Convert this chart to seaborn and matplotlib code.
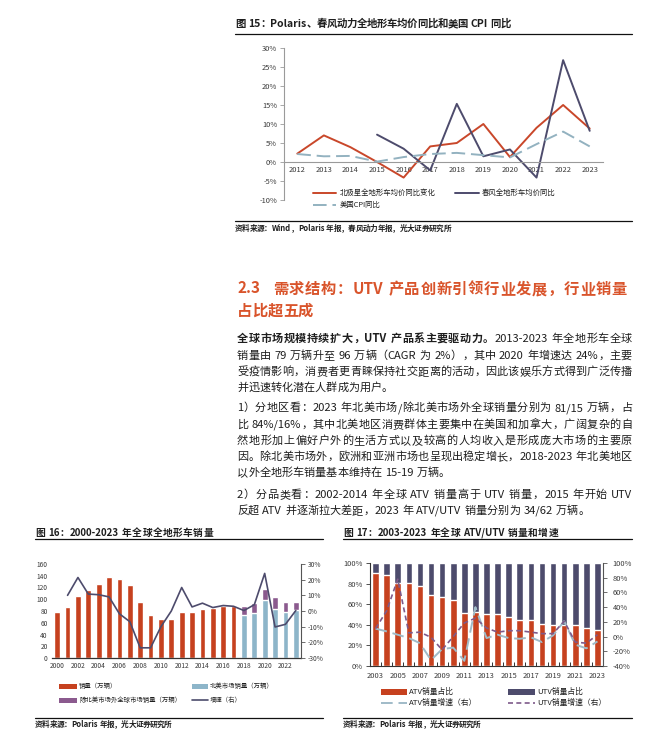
import numpy as np
import matplotlib
matplotlib.use("Agg")
import matplotlib.pyplot as plt
import seaborn as sns
from matplotlib.lines import Line2D
from matplotlib.patches import Rectangle
from matplotlib.ticker import FuncFormatter

W, H, DPI = 665, 739, 100

# ---------- 图15: 均价同比 / CPI 同比 (%)
years15 = [str(y) for y in range(2012, 2024)]
polaris_price_yoy = [2.2, 7.0, 3.9, 0.0, -4.1, 4.1, 5.0, 10.0, 1.3, 9.0, 15.0, 8.8]
cfmoto_price_yoy = [np.nan, np.nan, np.nan, 7.2, 3.5, -2.2, 15.3, 1.5, 3.3, -4.1, 26.8, 8.2]
us_cpi_yoy = [2.1, 1.5, 1.6, 0.1, 1.3, 2.1, 2.4, 1.8, 1.2, 4.7, 8.0, 4.1]

# ---------- 图16: 全球全地形车销量 (万辆) 和增速 (%)
years16 = [str(y) for y in range(2000, 2024)]
years16_total = years16[:18]
sales_total = [78, 86.5, 105, 115, 126, 138, 135, 125, 96, 74, 67, 67,
               77.5, 79, 83, 85, 89, 89]
years16_split = years16[18:]
na_sales = [72.5, 76, 98, 82.6, 77.5, 81]
ex_na_sales = [16.5, 17, 19, 22, 17, 15]
sales_growth = [np.nan, 10, 21.4, 10.8, 10.4, 9, -1.8, -6.8, -23.5, -23.5, -10, 0,
                15, 2.6, 5, 2.2, 3.5, 3, 0.3, 4, 24, -10.2, -8.5, 0.3]

# ---------- 图17: ATV/UTV 占比和增速 (%)
years17 = [str(y) for y in range(2003, 2024)]
atv_share = [90.2, 88.2, 81, 80.4, 77.8, 69, 67, 64, 51, 52, 50.3, 50.6, 47.4,
             44.4, 44.4, 40.8, 39.5, 40, 39.5, 37, 34.6]
utv_share = [round(100 - v, 1) for v in atv_share]
atv_growth = [10.8, 7, 2.5, -2, -9, -32, -17, -15, -33, 40, -2, 2.5, -2, -3, -1,
              -7.5, 1.6, 21, -11, -16, -6.6]
utv_growth = [10.8, 35, 78, 5, 6, -1, -18, 0, 18.5, 25, 11.7, 6, 8, 8, 6, 4, 4,
              21, -7.5, -9, 2.5]

# ---------- page text
title15 = "图 15：Polaris、春风动力全地形车均价同比和美国 CPI 同比"
source15 = "资料来源：Wind，Polaris 年报，春风动力年报，光大证券研究所"
legend15 = ["北极星全地形车均价同比变化", "春风全地形车均价同比", "美国CPI同比"]
heading_no = "2.3"
heading_1 = "需求结构：UTV 产品创新引领行业发展，行业销量"
heading_2 = "占比超五成"
paragraphs = [
    [[("全球市场规模持续扩大，UTV 产品系主要驱动力。", True), ("2013-2023 年全地形车全球", False)],
     [("销量由 79 万辆升至 96 万辆（CAGR 为 2%），其中 2020 年增速达 24%，主要", False)],
     [("受疫情影响，消费者更青睐保持社交距离的活动，因此该娱乐方式得到广泛传播", False)],
     [("并迅速转化潜在人群成为用户。", False)]],
    [[("1）分地区看：2023 年北美市场/除北美市场外全球销量分别为 81/15 万辆，占", False)],
     [("比 84%/16%，其中北美地区消费群体主要集中在美国和加拿大，广阔复杂的自", False)],
     [("然地形加上偏好户外的生活方式以及较高的人均收入是形成庞大市场的主要原", False)],
     [("因。除北美市场外，欧洲和亚洲市场也呈现出稳定增长，2018-2023 年北美地区", False)],
     [("以外全地形车销量基本维持在 15-19 万辆。", False)]],
    [[("2）分品类看：2002-2014 年全球 ATV 销量高于 UTV 销量，2015 年开始 UTV", False)],
     [("反超 ATV 并逐渐拉大差距，2023 年 ATV/UTV 销量分别为 34/62 万辆。", False)]],
]
para_y = [[338, 355, 371, 387], [407, 424, 440, 456, 472], [494, 510]]
title16 = "图 16：2000-2023 年全球全地形车销量"
legend16 = ["销量（万辆）", "北美市场销量（万辆）", "除北美市场外全球市场销量（万辆）", "增速（右）"]
title17 = "图 17：2003-2023 年全球 ATV/UTV 销量和增速"
legend17 = ["ATV销量占比", "UTV销量占比", "ATV销量增速（右）", "UTV销量增速（右）"]
source1617 = "资料来源：Polaris 年报，光大证券研究所"

RED = "#C6411F"
RED_LINE = "#C9472A"
NAVY = "#4D4B6C"
LBLUE = "#8DB5C9"
CPI_BLUE = "#93B2C0"
ATV_DASH = "#A0BBC8"
PURPLE = "#8B5A8E"
PURPLE_DASH = "#7E5A8A"
HEAD = "#D9542B"
TXT = "#1E1E1E"
TICK = "#3A3A3A"

sns.set_theme(style="white")
plt.rcParams["font.family"] = ["Noto Sans CJK SC", "DejaVu Sans"]
plt.rcParams["axes.unicode_minus"] = False

fig = plt.figure(figsize=(W / DPI, H / DPI), dpi=DPI)
fig.patch.set_facecolor("white")
renderer = fig.canvas.get_renderer()


def box(l, t, r, b):
    return [l / W, 1 - b / H, (r - l) / W, (b - t) / H]


def put(x, y, s, size, weight="normal", color=TXT, ha="left", va="center"):
    return fig.text(x / W, 1 - y / H, s, fontsize=size, weight=weight,
                    color=color, ha=ha, va=va)


def rule(x0, x1, y, lw=0.9, color="#111111"):
    fig.add_artist(Line2D([x0 / W, x1 / W], [1 - y / H] * 2,
                          transform=fig.transFigure, lw=lw, color=color))


def key_line(x0, x1, y, color, lw, ls="-"):
    fig.add_artist(Line2D([x0 / W, x1 / W], [1 - y / H] * 2, transform=fig.transFigure,
                          color=color, lw=lw, linestyle=ls))


def key_box(x0, x1, y, h, color):
    fig.add_artist(Rectangle((x0 / W, 1 - (y + h / 2) / H), (x1 - x0) / W, h / H,
                             transform=fig.transFigure, color=color, lw=0))


def tokens_of(pieces):
    out = []
    for s, bold in pieces:
        buf, space = "", False
        for ch in s:
            if ch == " ":
                if buf:
                    out.append((buf, bold, space))
                    buf = ""
                    space = False
                space = True
            elif ord(ch) < 128:
                buf += ch
            else:
                if buf:
                    out.append((buf, bold, space))
                    buf = ""
                    space = False
                out.append((ch, bold, space))
                space = False
        if buf:
            out.append((buf, bold, space))
    return out


def text_line(x0, x1, yc, pieces, size, justify=True, color=TXT):
    # lays out one line token by token so it can be stretched to full width
    toks = tokens_of(pieces)
    arts, widths = [], []
    for s, bold, sp in toks:
        t = fig.text(0, 0, s, fontsize=size, weight="bold" if bold else "normal",
                     color=color, va="baseline")
        arts.append(t)
        widths.append(t.get_window_extent(renderer).width)
    px = size * DPI / 72
    sp_w = px * 0.28
    nat = sum(widths) + sp_w * sum(1 for tk in toks[1:] if tk[2])
    extra = (x1 - x0 - nat) / (len(toks) - 1) if (justify and len(toks) > 1) else 0
    x = x0
    yb = round(yc + px * 0.38)
    for i, (t, w, tk) in enumerate(zip(arts, widths, toks)):
        if i > 0 and tk[2]:
            x += sp_w
        t.set_position((x / W, 1 - yb / H))
        x += w + extra


pct = FuncFormatter(lambda v, _: f"{v:.0f}%")

# ================= 图15 =================
text_line(235, 511, 23, [(title15, True)], 7.5)
rule(235, 632, 34)

ax15 = fig.add_axes(box(284, 48, 603, 200))
x15 = np.arange(len(years15))
sns.lineplot(x=x15, y=polaris_price_yoy, color=RED_LINE, lw=1.4, ax=ax15)
sns.lineplot(x=x15, y=cfmoto_price_yoy, color=NAVY, lw=1.4, ax=ax15)
sns.lineplot(x=x15, y=us_cpi_yoy, color=CPI_BLUE, lw=1.4, ax=ax15,
             linestyle=(0, (7, 3)))
ax15.set_xlim(-0.5, len(years15) - 0.5)
ax15.set_ylim(-10, 30)
ax15.set_xticks(x15)
ax15.set_xticklabels(years15)
ax15.set_yticks(range(-10, 31, 5))
ax15.yaxis.set_major_formatter(pct)
ax15.spines["bottom"].set_position(("data", 0))
for side in ["top", "right"]:
    ax15.spines[side].set_visible(False)
for side in ["left", "bottom"]:
    ax15.spines[side].set_color("#9A9A9A")
    ax15.spines[side].set_linewidth(0.8)
ax15.tick_params(axis="x", length=0, pad=3, labelsize=5.4, labelcolor=TICK)
ax15.tick_params(axis="y", length=3, width=0.6, color="#9A9A9A", direction="out",
                 pad=2, labelsize=5.4, labelcolor=TICK, left=True)
ax15.set_xlabel("")
ax15.set_ylabel("")

key_line(313, 336, 193, RED_LINE, 1.4)
put(340, 193, legend15[0], 5.3)
key_line(455, 479, 193, NAVY, 1.4)
put(482, 193, legend15[1], 5.3)
key_line(313, 336, 205, CPI_BLUE, 1.4, (0, (7, 3)))
put(340, 205, legend15[2], 5.3)

rule(235, 632, 221)
text_line(235, 451, 228, [(source15, True)], 5.5)

# ================= heading & text =================
put(237, 288, heading_no, 11, weight="bold", color=HEAD, va="center")
text_line(273, 627, 288, [(heading_1, True)], 11, color=HEAD)
text_line(237, 315, 310, [(heading_2, True)], 11, justify=False, color=HEAD)

for para, ys in zip(paragraphs, para_y):
    for i, (pieces, y) in enumerate(zip(para, ys)):
        text_line(237, 632, y, pieces, 8, justify=(i < len(para) - 1))

# ================= 图16 =================
text_line(35, 213, 532, [(title16, True)], 7.0)
rule(35, 323, 539)

ax16 = fig.add_axes(box(52, 564, 301, 658))
stack16 = [a + b for a, b in zip(na_sales, ex_na_sales)]
sns.barplot(x=years16_total, y=sales_total, order=years16, color=RED, saturation=1,
            width=0.56, ax=ax16)
sns.barplot(x=years16_split, y=stack16, order=years16, color=PURPLE, saturation=1,
            width=0.56, ax=ax16)
sns.barplot(x=years16_split, y=na_sales, order=years16, color=LBLUE, saturation=1,
            width=0.56, ax=ax16)
ax16.set_xlim(-0.5, len(years16) - 0.5)
ax16.set_ylim(0, 160)
ax16.set_yticks(range(0, 161, 20))
ax16.set_xticks(range(0, len(years16), 2))
ax16.set_xticklabels(years16[::2])
for side in ["top", "right", "left"]:
    ax16.spines[side].set_visible(False)
ax16.spines["bottom"].set_color("#333333")
ax16.spines["bottom"].set_linewidth(0.9)
ax16.tick_params(axis="both", length=0, pad=3, labelsize=4.8, labelcolor=TICK)
ax16.set_xlabel("")
ax16.set_ylabel("")

ax16b = ax16.twinx()
sns.lineplot(x=np.arange(len(years16)), y=sales_growth, color=NAVY, lw=1.2, ax=ax16b)
ax16b.set_ylim(-30, 30)
ax16b.set_yticks(range(-30, 31, 10))
ax16b.yaxis.set_major_formatter(pct)
for side in ["top", "left", "bottom"]:
    ax16b.spines[side].set_visible(False)
ax16b.spines["right"].set_color("#555555")
ax16b.spines["right"].set_linewidth(0.8)
ax16b.tick_params(axis="y", length=3, width=0.6, color="#555555", direction="out",
                  pad=2, labelsize=4.8, labelcolor=TICK, right=True)
ax16b.set_ylabel("")

key_box(59, 77, 686, 5, RED)
put(79, 686, legend16[0], 4.6)
key_box(192, 208, 686, 5, LBLUE)
put(210, 686, legend16[1], 4.6)
key_box(59, 77, 700, 5, PURPLE)
put(79, 700, legend16[2], 4.6)
key_line(192, 208, 700, NAVY, 1.2)
put(210, 700, legend16[3], 4.6)

rule(35, 323, 718)
text_line(35, 172, 724, [(source1617, True)], 5.5)

# ================= 图17 =================
text_line(343, 558, 532, [(title17, True)], 7.0)
rule(343, 632, 539)

ax17 = fig.add_axes(box(370, 563, 603, 666))
full17 = [a + u for a, u in zip(atv_share, utv_share)]
sns.barplot(x=years17, y=full17, order=years17, color=NAVY, saturation=1,
            width=0.6, ax=ax17)
sns.barplot(x=years17, y=atv_share, order=years17, color=RED, saturation=1,
            width=0.6, ax=ax17)
ax17.set_xlim(-0.5, len(years17) - 0.5)
ax17.set_ylim(0, 100)
ax17.set_yticks(range(0, 101, 20))
ax17.yaxis.set_major_formatter(pct)
ax17.set_xticks(range(0, len(years17), 2))
ax17.set_xticklabels(years17[::2])
ax17.set_xticks(np.arange(-0.5, len(years17), 1), minor=True)
ax17.spines["top"].set_visible(False)
ax17.spines["right"].set_visible(False)
for side in ["left", "bottom"]:
    ax17.spines[side].set_color("#333333")
    ax17.spines[side].set_linewidth(0.8)
ax17.tick_params(axis="x", which="major", length=0, pad=4, labelsize=5.4,
                 labelcolor=TICK)
ax17.tick_params(axis="x", which="minor", length=3, width=0.7, color="#333333",
                 direction="in", bottom=True)
ax17.tick_params(axis="y", length=3, width=0.6, color="#333333", direction="out",
                 pad=2, labelsize=5.4, labelcolor=TICK, left=True)
ax17.set_xlabel("")
ax17.set_ylabel("")

ax17b = ax17.twinx()
x17 = np.arange(len(years17))
sns.lineplot(x=x17, y=atv_growth, color=ATV_DASH, lw=1.4, ax=ax17b,
             linestyle=(0, (6, 3)))
sns.lineplot(x=x17, y=utv_growth, color=PURPLE_DASH, lw=1.2, ax=ax17b,
             linestyle=(0, (3, 2)))
ax17b.set_ylim(-40, 100)
ax17b.set_yticks(range(-40, 101, 20))
ax17b.yaxis.set_major_formatter(pct)
for side in ["top", "left", "bottom"]:
    ax17b.spines[side].set_visible(False)
ax17b.spines["right"].set_color("#555555")
ax17b.spines["right"].set_linewidth(0.8)
ax17b.tick_params(axis="y", length=3, width=0.6, color="#555555", direction="out",
                  pad=4, labelsize=5.4, labelcolor=TICK, right=True)
ax17b.set_ylabel("")

key_box(381, 407, 692, 6, RED)
put(409, 692, legend17[0], 5.6)
key_box(508, 535, 692, 6, NAVY)
put(537, 692, legend17[1], 5.6)
key_line(381, 407, 703, ATV_DASH, 1.4, (0, (6, 3)))
put(409, 703, legend17[2], 5.6)
key_line(508, 535, 703, PURPLE_DASH, 1.2, (0, (3, 2)))
put(537, 703, legend17[3], 5.6)

rule(343, 632, 718)
text_line(343, 481, 724, [(source1617, True)], 5.5)

fig.savefig("out.png", dpi=DPI, facecolor="white")
